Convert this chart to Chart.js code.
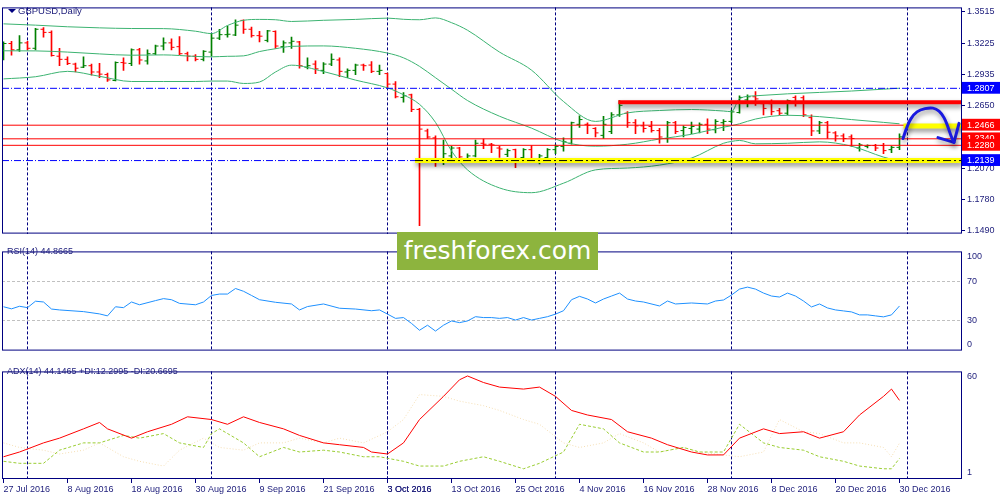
<!DOCTYPE html>
<html><head><meta charset="utf-8">
<script src="https://cdn.jsdelivr.net/npm/chart.js@4.4.1/dist/chart.umd.min.js"></script>
<style>
html,body{margin:0;padding:0;background:#fff}
body{width:1000px;height:500px;overflow:hidden;position:relative;font-family:'Liberation Sans',Arial,sans-serif}
canvas{position:absolute;left:0}
.lbl{position:absolute;font-size:9px;line-height:10px;color:#1c1c7a;white-space:nowrap}
#tri{position:absolute;left:8px;top:9px;width:0;height:0;border-left:4px solid transparent;border-right:4px solid transparent;border-top:4px solid #000080}
#wm{position:absolute;left:397px;top:232px;width:201px;height:38px;background:#8db43e;color:#fff;font:25px 'DejaVu Sans',sans-serif;line-height:38px;text-align:center;z-index:5}
</style></head><body>
<canvas id="cMain" width="1000" height="241" style="top:0"></canvas>
<canvas id="cRsi" width="1000" height="120" style="top:241px"></canvas>
<canvas id="cAdx" width="1000" height="139" style="top:361px"></canvas>
<div id="tri"></div>
<div class="lbl" style="left:18px;top:6px;font-size:9.5px">GBPUSD,Daily</div>
<div class="lbl" style="left:7px;top:246px">RSI(14) 44.8665</div>
<div class="lbl" style="left:7px;top:366px">ADX(14) 44.1465 +DI:12.2995 -DI:20.6695</div>
<div id="wm">freshforex.com</div>
<script>
// ---------- data ----------
const dateLabels = ['27 Jul 2016','8 Aug 2016','18 Aug 2016','30 Aug 2016','9 Sep 2016','21 Sep 2016','3 Oct 2016','13 Oct 2016','25 Oct 2016','4 Nov 2016','16 Nov 2016','28 Nov 2016','8 Dec 2016','20 Dec 2016','30 Dec 2016'];
const labelIdx = [0,8,16,24,32,40,48,56,64,72,80,88,96,104,112];
const monthStartIdx = [3,26,48,69,91,113];

const open = [1.3116,1.3221,1.3163,1.3227,1.3177,1.3353,1.3324,1.3104,1.3075,1.3031,
1.3002,1.3016,1.2958,1.2934,1.2879,1.3045,1.3037,1.3163,1.3060,1.3127,
1.3198,1.3227,1.3192,1.3127,1.3104,1.3075,1.3142,1.3271,1.3303,1.3300,
1.3435,1.3353,1.3294,1.3250,1.3333,1.3192,1.3227,1.3236,1.3002,1.3031,
1.2973,1.3031,1.3069,1.2958,1.2973,1.3022,1.3022,1.2964,1.2943,1.2846,
1.2723,1.2747,1.2612,1.2413,1.2349,1.2123,1.2182,1.2255,1.2152,1.2182,
1.2299,1.2290,1.2255,1.2196,1.2240,1.2167,1.2240,1.2143,1.2167,1.2240,
1.2270,1.2299,1.2474,1.2474,1.2436,1.2372,1.2407,1.2562,1.2577,1.2489,
1.2460,1.2454,1.2416,1.2343,1.2489,1.2416,1.2436,1.2430,1.2474,1.2424,
1.2489,1.2501,1.2583,1.2700,1.2729,1.2665,1.2665,1.2600,1.2577,1.2723,
1.2720,1.2536,1.2413,1.2489,1.2395,1.2367,1.2358,1.2255,1.2270,1.2278,
1.2278,1.2240,1.2261];
const high = [1.3236,1.3242,1.3294,1.3242,1.3362,1.3368,1.3338,1.3177,1.3098,1.3040,
1.3098,1.3031,1.3037,1.2949,1.3052,1.3089,1.3171,1.3177,1.3163,1.3206,
1.3274,1.3265,1.3285,1.3142,1.3118,1.3155,1.3315,1.3353,1.3382,1.3441,
1.3441,1.3373,1.3333,1.3344,1.3338,1.3245,1.3280,1.3242,1.3089,1.3060,
1.3045,1.3125,1.3089,1.2987,1.3031,1.3031,1.3054,1.3022,1.2949,1.2870,
1.2767,1.2753,1.2621,1.2430,1.2367,1.2328,1.2270,1.2261,1.2202,1.2328,
1.2337,1.2299,1.2270,1.2246,1.2246,1.2249,1.2278,1.2196,1.2249,1.2284,
1.2349,1.2495,1.2553,1.2489,1.2445,1.2547,1.2583,1.2694,1.2591,1.2518,
1.2495,1.2501,1.2436,1.2501,1.2501,1.2460,1.2495,1.2489,1.2524,1.2518,
1.2518,1.2606,1.2738,1.2747,1.2776,1.2665,1.2700,1.2621,1.2700,1.2738,
1.2738,1.2562,1.2501,1.2501,1.2407,1.2387,1.2378,1.2299,1.2284,1.2290,
1.2299,1.2270,1.2387];
const low = [1.3069,1.3113,1.3149,1.3163,1.3163,1.3280,1.3104,1.3016,1.3025,1.2958,
1.2999,1.2928,1.2905,1.2870,1.2876,1.2973,1.3016,1.3031,1.3031,1.3118,
1.3163,1.3163,1.3118,1.3060,1.3060,1.3060,1.3104,1.3256,1.3280,1.3294,
1.3315,1.3280,1.3236,1.3236,1.3177,1.3139,1.3177,1.2993,1.2987,1.2943,
1.2943,1.3016,1.2914,1.2905,1.2934,1.2973,1.2952,1.2934,1.2806,1.2718,
1.2679,1.2591,1.1537,1.2343,1.2085,1.2102,1.2138,1.2138,1.2132,1.2173,
1.2249,1.2211,1.2167,1.2176,1.2073,1.2152,1.2138,1.2108,1.2138,1.2202,
1.2226,1.2290,1.2445,1.2387,1.2358,1.2343,1.2387,1.2547,1.2445,1.2387,
1.2401,1.2401,1.2299,1.2307,1.2387,1.2358,1.2387,1.2395,1.2387,1.2395,
1.2416,1.2489,1.2577,1.2635,1.2650,1.2562,1.2562,1.2562,1.2562,1.2641,
1.2545,1.2369,1.2387,1.2343,1.2319,1.2313,1.2270,1.2226,1.2255,1.2231,
1.2202,1.2211,1.2240];
const close = [1.3221,1.3163,1.3227,1.3177,1.3353,1.3324,1.3110,1.3075,1.3037,1.2993,
1.3016,1.2958,1.2938,1.2885,1.3045,1.3040,1.3163,1.3069,1.3127,1.3198,
1.3227,1.3186,1.3127,1.3104,1.3075,1.3149,1.3271,1.3303,1.3307,1.3391,
1.3353,1.3294,1.3289,1.3338,1.3198,1.3227,1.3242,1.3016,1.3016,1.2987,
1.3031,1.3075,1.2964,1.2973,1.3022,1.3016,1.2964,1.2973,1.2846,1.2729,
1.2738,1.2612,1.2430,1.2357,1.2138,1.2202,1.2255,1.2173,1.2182,1.2299,
1.2290,1.2284,1.2246,1.2231,1.2152,1.2240,1.2152,1.2182,1.2240,1.2270,
1.2313,1.2489,1.2518,1.2466,1.2395,1.2474,1.2562,1.2650,1.2489,1.2460,
1.2436,1.2416,1.2357,1.2489,1.2407,1.2445,1.2454,1.2474,1.2430,1.2501,
1.2501,1.2589,1.2723,1.2729,1.2709,1.2621,1.2591,1.2577,1.2694,1.2671,
1.2562,1.2413,1.2489,1.2401,1.2367,1.2343,1.2343,1.2284,1.2278,1.2255,
1.2231,1.2261,1.2358];

const bbIdx = [0,4,8,12,16,20,24,26,28,30,32,34,36,40,44,48,50,52,54,56,58,62,66,70,74,78,82,86,90,91,92,94,98,102,106,110,112];
const bbUpper = [1.3403,1.3391,1.3376,1.3366,1.3360,1.3359,1.3335,1.3313,1.3388,1.3436,1.3444,1.3441,1.3425,1.3436,1.3444,1.3456,1.3445,1.3441,1.3458,1.3414,1.3344,1.3142,1.2975,1.2685,1.2501,1.2580,1.2602,1.2611,1.2597,1.2591,1.2712,1.2738,1.2756,1.2769,1.2782,1.2799,1.2808];
const bbMiddle = [1.3154,1.3153,1.3142,1.3125,1.3113,1.3116,1.3102,1.3098,1.3103,1.3107,1.3147,1.3173,1.3195,1.3199,1.3177,1.3133,1.3089,1.3010,1.2905,1.2799,1.2694,1.2549,1.2439,1.2312,1.2272,1.2290,1.2338,1.2382,1.2448,1.2461,1.2479,1.2523,1.2558,1.2545,1.2518,1.2492,1.2479];
const bbLower = [1.2894,1.2914,1.2964,1.2918,1.2870,1.2870,1.2870,1.2874,1.2874,1.2852,1.2865,1.2958,1.3021,1.2962,1.2883,1.2811,1.2747,1.2659,1.2492,1.2228,1.2053,1.1886,1.1842,1.1930,1.2053,1.2070,1.2097,1.2162,1.2299,1.2316,1.2325,1.2294,1.2299,1.2312,1.2272,1.2171,1.2132];

const priceTicks = [1.3515,1.3225,1.2935,1.2650,1.2070,1.1780,1.1490];
const markLevels = [1.2807,1.2466,1.2340,1.2280,1.2139];
const redLevels = [1.2466,1.2340,1.2280];
const blueLevels = [1.2807,1.2139];
const resistance = [76.85,1.2679];      // [start bar, price]
const supportZone = [51.44,1.2139];
const upperZone = [112.5,1.2458];
const arrowIdx = [112.44,112.94,113.44,114.19,115.19,116.19,116.94,117.56,118.06,118.44,118.81];
const arrowPrice = [1.2343,1.2448,1.2527,1.2589,1.2619,1.2624,1.2597,1.2536,1.2448,1.2369,1.2307];
const headIdx = [116.81,118.81,119.44];
const headPrice = [1.2351,1.2307,1.2483];

const rsiPoints = [[0,44.2],[1,42.1],[2,44.7],[3,43.3],[4,49.8],[5,49.0],[6,41.9],[7,41.0],[10,39.3],[12,37.0],[13,35.0],[14,44.2],[15,43.3],[16,49.0],[17,46.2],[19,50.4],[20,52.4],[21,51.3],[22,47.6],[24,46.2],[25,49.0],[26,55.6],[27,57.0],[28,57.0],[29,62.6],[30,59.8],[31,55.6],[32,51.3],[34,48.7],[36,47.0],[37,41.0],[38,44.4],[40,47.0],[42,42.7],[44,41.9],[46,40.2],[47,41.0],[48,36.8],[49,32.5],[50,33.3],[51,27.4],[52,20.5],[53,25.6],[54,19.7],[55,25.6],[56,29.9],[57,28.2],[58,29.9],[59,34.2],[60,33.3],[61,33.3],[62,32.5],[63,33.3],[64,30.8],[65,33.3],[66,30.8],[67,32.5],[68,34.2],[69,36.8],[70,40.2],[71,51.3],[72,54.7],[73,52],[74,48],[75,52],[76,55],[77,58],[78,52],[79,50],[80,49],[82,45],[83,50],[84,47],[86,48],[88,47],[89,50],[90,51],[91,56],[92,62],[93,64],[94,62],[95,58],[96,55],[97,54],[98,58],[99,55],[100,50],[101,44],[102,47],[103,43],[104,41],[105,40],[106,39],[107,36],[108,36],[109,35],[110,34],[111,36],[112,45]];
const rsiLevels = [100,70,30,0];
const adxPoints = [[0,13.2],[2,15.8],[5,20.8],[7,23.4],[10,28.5],[12,32.0],[13,28.5],[16,23.4],[18,26.9],[21,31.0],[23,35.1],[26,33.6],[28,31.0],[30,35.1],[32,32.0],[35,28.5],[37,24.9],[40,20.8],[42,19.8],[45,18.3],[46,15.8],[48,14.7],[50,20.8],[52,33.6],[55,46.3],[57,55.4],[58,57.5],[60,53.9],[62,51.4],[65,50.3],[67,51.4],[69,46.3],[71,38.6],[73,36.1],[76,33.6],[78,26.9],[81,23.4],[83,19.8],[86,15.8],[88,14.2],[90,14.2],[92,23.4],[95,28.5],[97,25.9],[100,26.9],[102,23.4],[105,26.9],[107,36.1],[110,46.3],[111,50.3],[112,44.1]];
const pdiPoints = [[0,10.7],[2,9.6],[5,9.6],[7,16.8],[10,20.8],[12,20.8],[15,24.9],[17,23.4],[20,25.9],[22,20.8],[25,18.3],[26,25.9],[27,28.5],[30,20.8],[32,13.2],[35,18.3],[37,15.8],[40,16.8],[42,15.8],[45,13.2],[47,13.2],[50,10.7],[52,8.1],[55,8.1],[57,10.7],[60,13.2],[62,10.7],[65,6.6],[67,9.6],[70,15.8],[72,31.0],[75,28.5],[77,20.8],[80,15.8],[82,15.8],[85,18.3],[87,15.8],[90,15.8],[92,31.0],[95,20.8],[97,18.3],[100,16.8],[102,13.2],[105,10.7],[107,8.1],[110,6.6],[111,6.6],[112,12.3]];
const mdiPoints = [[0,20.8],[2,18.3],[5,16.8],[7,14.7],[10,16.8],[12,20.8],[15,13.2],[17,10.7],[20,8.1],[22,16.8],[25,23.4],[27,18.3],[30,16.8],[32,20.8],[35,20.8],[37,23.4],[40,20.8],[42,23.4],[45,20.8],[48,26.9],[50,33.6],[52,47.3],[55,46.3],[57,43.7],[60,41.2],[62,38.6],[65,33.6],[67,31.0],[70,20.8],[72,18.3],[75,20.8],[77,25.9],[80,20.8],[82,15.8],[85,18.3],[87,15.8],[90,14.2],[92,13.2],[95,15.8],[97,33.6],[100,26.9],[102,25.9],[105,20.8],[107,20.8],[110,18.3],[111,13.2],[112,20.7]];
const adxLevels = [60,1];

// ---------- styling ----------
const FONT = "'Liberation Sans', Arial, sans-serif";
const NAVY = '#000080';
const TXT = '#1c1c7a';
const X_MIN = -0.1875, X_MAX = 119.8125;
const PMIN = 1.14638, PMAX = 1.35551;
const markColors = ['#0000ff','#ff0000','#ff0000','#ff0000','#0000ff'];
const CLEAR = 'rgba(0,0,0,0)';

const framePlugin = {id:'frame', afterDraw(chart){
  const {ctx, chartArea:a} = chart; ctx.save(); ctx.strokeStyle = NAVY; ctx.lineWidth = 1;
  ctx.strokeRect(a.left+0.5, a.top+0.5, a.right-a.left-1, a.bottom-a.top-1); ctx.restore(); }};
const shadowPlugin = {id:'shadow',
  beforeDatasetDraw(chart, args){ const ds = chart.data.datasets[args.index]; if (ds.shadow){ const c = chart.ctx; c.save(); c.shadowColor='rgba(0,0,0,0.45)'; c.shadowBlur=5; c.shadowOffsetX=1; c.shadowOffsetY=3; } },
  afterDatasetDraw(chart, args){ const ds = chart.data.datasets[args.index]; if (ds.shadow) chart.ctx.restore(); }};

function sepAxis(){
  return {type:'linear', min:X_MIN, max:X_MAX, offset:false,
    afterBuildTicks: s => { s.ticks = monthStartIdx.map(v => ({value:v})); },
    afterFit: s => { s.height = 0; },
    ticks:{display:false},
    grid:{offset:false, drawOnChartArea:true, drawTicks:false, color:NAVY, lineWidth:1},
    border:{display:false, dash:[3,2]}};
}
function pts(arr){ return arr.map(p => ({x:p[0], y:p[1]})); }
function hline(x0, x1, y){ return [{x:x0,y:y},{x:x1,y:y}]; }
function lineDs(data, color, width, extra){
  return Object.assign({type:'line', data, borderColor:color, borderWidth:width, pointRadius:0, fill:false, tension:0}, extra||{});
}
const baseOpts = {responsive:false, animation:false, devicePixelRatio:1, events:[],
  plugins:{legend:{display:false}, tooltip:{enabled:false}}};

// ---------- main chart ----------
const barColors = close.map((c,i) => c >= open[i] ? '#008000' : '#ff0000');
const mainDatasets = [
  {type:'bar', data: high.map((h,i) => ({x:i, y:[low[i], h]})), backgroundColor: barColors, borderWidth:0, barThickness:1, grouped:false, order:20},
  {type:'scatter', data: open.map((o,i) => ({x:i, y:o})), pointStyle:'dash', rotation:180, pointRadius:3, pointBorderWidth:1, pointBorderColor:barColors, pointBackgroundColor:barColors, order:19},
  {type:'scatter', data: close.map((c,i) => ({x:i, y:c})), pointStyle:'dash', rotation:0, pointRadius:3, pointBorderWidth:1, pointBorderColor:barColors, pointBackgroundColor:barColors, order:19},
  lineDs(bbIdx.map((x,k)=>({x, y:bbUpper[k]})), '#3cb371', 1, {cubicInterpolationMode:'monotone', order:15}),
  lineDs(bbIdx.map((x,k)=>({x, y:bbMiddle[k]})), '#3cb371', 1, {cubicInterpolationMode:'monotone', order:15}),
  lineDs(bbIdx.map((x,k)=>({x, y:bbLower[k]})), '#3cb371', 1, {cubicInterpolationMode:'monotone', order:15}),
];
redLevels.forEach(v => mainDatasets.push(lineDs(hline(X_MIN, X_MAX, v), '#ff0000', 1, {order:10})));
blueLevels.forEach(v => mainDatasets.push(lineDs(hline(X_MIN, X_MAX, v), '#0000ff', 1, {borderDash:[7,2,1,2], order:10})));
mainDatasets.push(lineDs(hline(supportZone[0], X_MAX, supportZone[1]), '#ffff00', 5, {shadow:true, order:8}));
mainDatasets.push(lineDs(hline(supportZone[0], X_MAX, supportZone[1]), '#000000', 1, {borderDash:[8,3,2,3], order:7}));
mainDatasets.push(lineDs(hline(upperZone[0], X_MAX, upperZone[1]), '#ffff00', 5, {shadow:true, order:8}));
mainDatasets.push(lineDs(hline(resistance[0], X_MAX, resistance[1]), '#ff0000', 4, {shadow:true, order:8}));
mainDatasets.push(lineDs(arrowIdx.map((x,k)=>({x, y:arrowPrice[k]})), '#1a1ae0', 3, {tension:0.4, shadow:true, borderCapStyle:'round', order:1}));
mainDatasets.push(lineDs(headIdx.map((x,k)=>({x, y:headPrice[k]})), '#1a1ae0', 3, {shadow:true, borderCapStyle:'round', borderJoinStyle:'round', order:1}));

const markColor = v => { const k = markLevels.indexOf(v); return k >= 0 ? markColors[k] : null; };
new Chart(document.getElementById('cMain'), {
  type:'bar', data:{datasets: mainDatasets},
  options: Object.assign({}, baseOpts, {
    layout:{padding:{left:2, top:2, right:0, bottom:1}, autoPadding:false},
    scales:{
      x: sepAxis(),
      y: {type:'linear', position:'right', min:PMIN, max:PMAX,
        afterFit: s => { s.width = 38; },
        afterBuildTicks: s => { s.ticks = priceTicks.concat(markLevels).map(v => ({value:v})); },
        grid:{drawOnChartArea:false, drawTicks:true, tickLength:3, tickColor:NAVY, color:NAVY},
        border:{display:false},
        ticks:{autoSkip:false, padding:2, font:{family:FONT, size:9},
          color: c => markColor(c.tick.value) ? '#ffffff' : TXT,
          showLabelBackdrop: c => !!markColor(c.tick.value),
          backdropColor: c => markColor(c.tick.value) || CLEAR,
          backdropPadding:{left:5, right:6, top:1, bottom:0},
          callback: v => v.toFixed(4)}}
    }}),
  plugins:[framePlugin, shadowPlugin]
});

// ---------- RSI ----------
const rsiNudge = [-5, 0, 0, 6];
new Chart(document.getElementById('cRsi'), {
  type:'line', data:{datasets:[lineDs(pts(rsiPoints), '#1e90ff', 1)]},
  options: Object.assign({}, baseOpts, {
    layout:{padding:{left:2, top:2, right:0, bottom:1}, autoPadding:false},
    scales:{
      x: sepAxis(),
      y: {type:'linear', position:'right', min:0, max:100,
        afterFit: s => { s.width = 38; },
        afterBuildTicks: s => { s.ticks = rsiLevels.map((v,k) => ({value: v + rsiNudge[k]})); },
        grid:{drawOnChartArea:true, drawTicks:false, color: c => (c.index===1||c.index===2) ? '#c0c0c0' : CLEAR},
        border:{display:false, dash:[3,2]},
        ticks:{autoSkip:false, padding:5, font:{family:FONT, size:9}, color:TXT, callback:(v,i) => String(rsiLevels[i])}}
    }}),
  plugins:[framePlugin]
});

// ---------- ADX ----------
const adxNudge = [-3, 3.6];
new Chart(document.getElementById('cAdx'), {
  type:'line', data:{datasets:[
    lineDs(pts(adxPoints), '#ff0000', 1),
    lineDs(pts(pdiPoints), '#9acd32', 1, {borderDash:[3,2]}),
    lineDs(pts(mdiPoints), '#f5deb3', 1, {borderDash:[1,2]})
  ]},
  options: Object.assign({}, baseOpts, {
    layout:{padding:{left:2, top:2, right:0, bottom:0}, autoPadding:false},
    scales:{
      x: {type:'linear', min:X_MIN, max:X_MAX, offset:false,
        afterBuildTicks: s => { s.ticks = labelIdx.concat(monthStartIdx).sort((a,b)=>a-b).map(v => ({value:v})); },
        afterFit: s => { s.height = 21; },
        grid:{offset:false, drawOnChartArea:true, drawTicks:true, tickLength:4,
          color: c => monthStartIdx.includes(c.tick.value) ? NAVY : CLEAR,
          tickColor: c => labelIdx.includes(c.tick.value) ? NAVY : CLEAR},
        border:{display:false, dash:[3,2]},
        ticks:{autoSkip:false, maxRotation:0, minRotation:0, align:'start', padding:1, font:{family:FONT, size:9}, color:TXT,
          callback: v => { const k = labelIdx.indexOf(v); return k >= 0 ? dateLabels[k] : ''; }}},
      y: {type:'linear', position:'right', min:1, max:60,
        afterFit: s => { s.width = 38; },
        afterBuildTicks: s => { s.ticks = adxLevels.map((v,k) => ({value: v + adxNudge[k]})); },
        grid:{drawOnChartArea:false, drawTicks:false},
        border:{display:false},
        ticks:{autoSkip:false, padding:5, font:{family:FONT, size:9}, color:TXT, callback:(v,i) => String(adxLevels[i])}}
    }}),
  plugins:[framePlugin]
});
</script>
</body></html>
